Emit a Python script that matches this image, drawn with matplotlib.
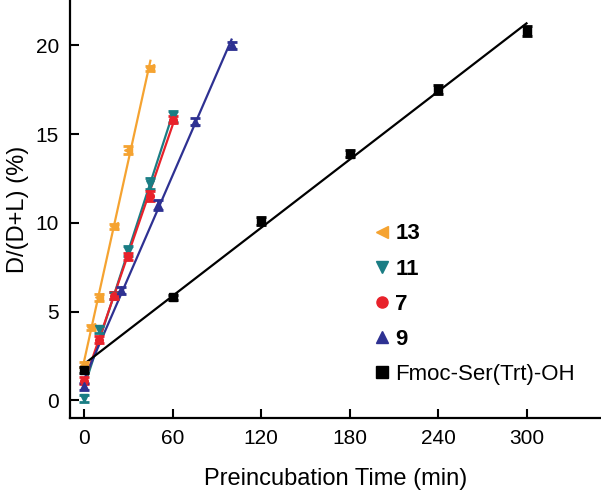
import numpy as np
import matplotlib.pyplot as plt

plt.rcParams['font.family'] = ['Liberation Sans', 'DejaVu Sans']

# preincubation time (min) and D/(D+L) (%) for each compound
t13 = [0, 5, 10, 20, 30, 45]
y13 = [2.0, 4.1, 5.8, 9.8, 14.1, 18.7]
e13 = [0.15, 0.15, 0.2, 0.15, 0.2, 0.15]

t11 = [0, 10, 20, 30, 45, 60]
y11 = [0.1, 4.0, 5.9, 8.4, 12.2, 16.0]
e11 = [0.2, 0.2, 0.2, 0.3, 0.3, 0.3]

t7 = [0, 10, 20, 30, 45, 60]
y7 = [1.1, 3.4, 5.9, 8.1, 11.5, 15.8]
e7 = [0.2, 0.2, 0.2, 0.2, 0.3, 0.2]

t9 = [0, 25, 50, 75, 100]
y9 = [0.8, 6.2, 11.0, 15.7, 20.0]
e9 = [0.2, 0.2, 0.3, 0.2, 0.2]

tF = [0, 60, 120, 180, 240, 300]
yF = [1.7, 5.8, 10.1, 13.9, 17.5, 20.8]
eF = [0.15, 0.15, 0.25, 0.2, 0.25, 0.3]

series = [
    ("13", t13, y13, e13, "#F5A331", "<"),
    ("11", t11, y11, e11, "#1A7D84", "v"),
    ("7", t7, y7, e7, "#E8222B", "o"),
    ("9", t9, y9, e9, "#2E3192", "^"),
    ("Fmoc-Ser(Trt)-OH", tF, yF, eF, "#000000", "s"),
]

fig = plt.figure(figsize=(6.01, 4.92), dpi=100)
ax = fig.add_axes([70/601, 74/492, 531/601, 418/492])

handles = []
for name, t, y, e, c, m in series:
    # linear fit drawn from 0 to the last time point
    k, b = np.polyfit(t, y, 1)
    xx = np.array([0, max(t)])
    ax.plot(xx, k*xx + b, color=c, lw=1.6, zorder=2)
    ax.errorbar(t, y, yerr=e, fmt=m, color=c, ms=5.5, capsize=3.5,
                elinewidth=1.8, capthick=2, zorder=3)
    h, = ax.plot([], [], m, color=c, ms=8, ls='none', label=name)
    handles.append(h)

ax.set_xlim(-9.5, 350.5)
ax.set_ylim(-1.0, 22.55)
ax.set_xticks([0, 60, 120, 180, 240, 300])
ax.set_yticks([0, 5, 10, 15, 20])
ax.spines['top'].set_visible(False)
ax.spines['right'].set_visible(False)
for s in ['left', 'bottom']:
    ax.spines[s].set_linewidth(1.6)
ax.tick_params(direction='in', length=6.5, width=1.5, labelsize=15, pad=8)
ax.tick_params(axis='y', pad=8)

ax.set_xlabel("Preincubation Time (min)", fontsize=17, labelpad=14)
ax.set_ylabel("D/(D+L) (%)", fontsize=17, labelpad=5)

leg = ax.legend(handles=handles, loc='upper left', bbox_to_anchor=(0.558, 0.487),
                frameon=False, fontsize=16, handlelength=0.6, handletextpad=0.3,
                labelspacing=0.64, borderaxespad=0)
for txt in leg.get_texts()[:4]:
    txt.set_fontweight('bold')

fig.savefig("out.png", dpi=100)
